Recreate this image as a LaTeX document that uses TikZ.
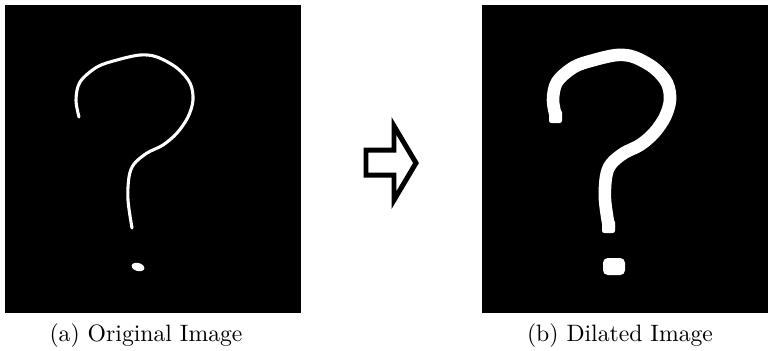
\documentclass[tikz,border=0pt]{standalone}
\usetikzlibrary{positioning}

\tikzset{
  imgbox/.style={fill=black, draw=none},
  caption/.style={anchor=base, font=\normalsize},
  % the hand drawn question mark, in pixel units
  qmark/.pic={
    \draw[white, line join=round]
      plot[smooth, tension=0.55] coordinates {
        (79,117) (76,100) (80,82) (97,67) (117,60) (140,55) (157,57)
        (177,68) (190,83) (193,100) (188,117) (177,133) (163,145)
        (147,153) (134,164) (129,177) (128,200) (132,228)};
  }
}

\begin{document}
\begin{tikzpicture}[x=0.4219pt, y=-0.4219pt]
  \useasboundingbox (0,0) rectangle (768,350);
  % left: original image
  \fill[imgbox] (5,5) rectangle (301,313);
  \pic[line width=1.3pt, line cap=round] at (0,0) {qmark};
  \fill[white, rotate around={-15:(138,267)}] (138,267) ellipse (6.5 and 4);
  \node[caption] (capa) at (146,341) {(a) Original Image};
  % right: dilated image (clipped by the page edge)
  \fill[imgbox] (482,5) rectangle (768,313);
  \pic[line width=5.3pt, line cap=butt] at (477,0) {qmark};
  % square ends left by the dilation
  \fill[white, rounded corners=1pt] (549,110) rectangle (562,123);
  \fill[white, rounded corners=1pt] (602,220) rectangle (615,233);
  \fill[white, rounded corners=2pt] (603,258) rectangle (625,275);
  \node[caption] (capb) at (620,341) {(b) Dilated Image};
  % outlined block arrow between the two
  \draw[line width=2.1pt, line join=miter]
    (366,150) -- (394,150) -- (394,126) -- (416,163)
    -- (394,200) -- (394,175) -- (366,175) -- cycle;
\end{tikzpicture}
\end{document}
